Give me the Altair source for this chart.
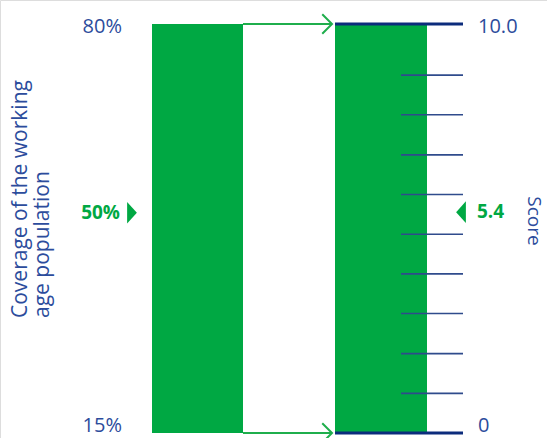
import altair as alt
import pandas as pd

# Coverage scale (left) and score scale (right)
coverage_ends = [15, 80]
coverage_marker = 50
score_ends = [0, 10]
score_end_labels = ["0", "10.0"]
score_ticks = [0.97, 1.94, 2.92, 3.89, 4.86, 5.83, 6.80, 7.78, 8.75]
score_marker = 5.4
left_title = ["Coverage of the working", "age population"]
right_title = "Score"

GREEN = "#00a843"
ARROW_GREEN = "#1fae4c"
NAVY = "#0c2c7c"
TICK = "#2f4b8c"
BLUE = "#2c4c9c"
FONT = "Open Sans"

TOP, BOTTOM = 24, 433
cov_scale = alt.Scale(domain=coverage_ends, range=[BOTTOM, TOP])
score_scale = alt.Scale(domain=score_ends, range=[BOTTOM, TOP])

cov_df = pd.DataFrame({"lo": [coverage_ends[0]], "hi": [coverage_ends[1]]})
cov_ends_df = pd.DataFrame({"v": coverage_ends})
cov_marker_df = pd.DataFrame({"v": [coverage_marker]})
score_df = pd.DataFrame({"lo": [score_ends[0]], "hi": [score_ends[1]]})
score_ends_df = pd.DataFrame({"v": score_ends, "label": score_end_labels})
score_ticks_df = pd.DataFrame({"v": score_ticks})
score_marker_df = pd.DataFrame({"v": [score_marker]})
title_df = pd.DataFrame({"t": [0]})

# bars
left_bar = alt.Chart(cov_df).mark_rect(color=GREEN).encode(
    x=alt.value(152), x2=alt.value(243),
    y=alt.Y("lo:Q", scale=cov_scale, axis=None), y2="hi:Q")
right_bar = alt.Chart(score_df).mark_rect(color=GREEN).encode(
    x=alt.value(335), x2=alt.value(427),
    y=alt.Y("lo:Q", scale=score_scale, axis=None), y2="hi:Q")

# score scale lines
end_lines = alt.Chart(score_ends_df).mark_rule(color=NAVY, strokeWidth=3).encode(
    x=alt.value(335), x2=alt.value(463),
    y=alt.Y("v:Q", scale=score_scale, axis=None))
tick_lines = alt.Chart(score_ticks_df).mark_rule(color=TICK, strokeWidth=1.6).encode(
    x=alt.value(401), x2=alt.value(463),
    y=alt.Y("v:Q", scale=score_scale, axis=None))

# arrows linking the two scales
arrow_shafts = alt.Chart(cov_ends_df).mark_rule(color=ARROW_GREEN, strokeWidth=2).encode(
    x=alt.value(243), x2=alt.value(331),
    y=alt.Y("v:Q", scale=cov_scale, axis=None))
arrow_heads = alt.Chart(cov_ends_df).mark_point(
    shape="M-1,-1L0,0L-1,1", filled=False, size=380, color=ARROW_GREEN,
    strokeWidth=2, opacity=1).encode(
    x=alt.value(332),
    y=alt.Y("v:Q", scale=cov_scale, axis=None))


def end_label(df, scale, x, align, pick, dy, pct):
    base = alt.Chart(df).transform_filter(pick)
    if pct:
        base = base.transform_calculate(label="datum.v + '%'")
    return base.mark_text(
        align=align, baseline="middle", font=FONT, fontSize=20, color=BLUE, dy=dy
    ).encode(x=alt.value(x), y=alt.Y("v:Q", scale=scale, axis=None), text="label:N")


# end labels, nudged inside the scale ends
cov_top = end_label(cov_ends_df, cov_scale, 122, "right",
                    alt.datum.v == coverage_ends[1], 3, True)
cov_bottom = end_label(cov_ends_df, cov_scale, 122, "right",
                       alt.datum.v == coverage_ends[0], -7, True)
score_top = end_label(score_ends_df, score_scale, 478, "left",
                      alt.datum.v == score_ends[1], 3, False)
score_bottom = end_label(score_ends_df, score_scale, 478, "left",
                         alt.datum.v == score_ends[0], -7, False)

# markers
cov_marker_text = alt.Chart(cov_marker_df).transform_calculate(
    label="datum.v + '%'").mark_text(
    align="right", baseline="middle", font=FONT, fontSize=19, fontWeight="bold",
    color=GREEN).encode(
    x=alt.value(120),
    y=alt.Y("v:Q", scale=cov_scale, axis=None), text="label:N")
cov_marker_tri = alt.Chart(cov_marker_df).mark_point(
    shape="M-0.45,-1L0.45,0L-0.45,1Z", filled=True, size=470, color=GREEN,
    opacity=1).encode(
    x=alt.value(132),
    y=alt.Y("v:Q", scale=cov_scale, axis=None))
score_marker_text = alt.Chart(score_marker_df).mark_text(
    align="left", baseline="middle", font=FONT, fontSize=19, fontWeight="bold",
    color=GREEN).encode(
    x=alt.value(477),
    y=alt.Y("v:Q", scale=score_scale, axis=None), text=alt.Text("v:Q", format=".1f"))
score_marker_tri = alt.Chart(score_marker_df).mark_point(
    shape="M0.45,-1L-0.45,0L0.45,1Z", filled=True, size=470, color=GREEN,
    opacity=1).encode(
    x=alt.value(461),
    y=alt.Y("v:Q", scale=score_scale, axis=None))

# rotated titles
left_title_mark = alt.Chart(title_df).mark_text(
    angle=270, align="left", baseline="top", font=FONT, fontSize=21,
    lineHeight=22, color=BLUE).encode(
    x=alt.value(10), y=alt.value(318), text=alt.value(left_title))
right_title_mark = alt.Chart(title_df).mark_text(
    angle=90, align="center", baseline="middle", font=FONT, fontSize=19,
    color=BLUE).encode(
    x=alt.value(534), y=alt.value(221), text=alt.value(right_title))

chart = alt.layer(
    left_bar, right_bar, end_lines, tick_lines, arrow_shafts, arrow_heads,
    cov_top, cov_bottom, score_top, score_bottom,
    cov_marker_text, cov_marker_tri, score_marker_text, score_marker_tri,
    left_title_mark, right_title_mark,
).resolve_scale(y="independent").properties(
    width=547, height=438, padding=0,
    autosize=alt.AutoSizeParams(type="none"),
).configure_view(stroke=None).configure(background="white")

chart.save("out.html", embed_options={"renderer": "svg", "actions": False})
